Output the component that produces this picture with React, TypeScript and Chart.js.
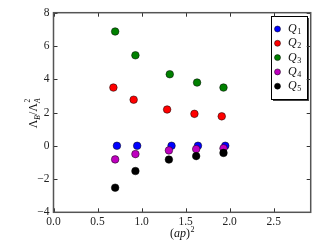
import React, { useEffect, useRef } from "react";
import { Chart, registerables } from "chart.js";

Chart.register(...registerables);

const seriesNames = ["Q₁", "Q₂", "Q₃", "Q₄", "Q₅"];
const seriesColors = ["#0000ff", "#ff0000", "#008000", "#bf00bf", "#000000"];

const q1X = [0.72, 0.95, 1.34, 1.64, 1.95];
const q1Y = [0, 0, 0, 0, 0];
const q2X = [0.68, 0.91, 1.29, 1.6, 1.91];
const q2Y = [3.5, 2.77, 2.18, 1.92, 1.77];
const q3X = [0.7, 0.93, 1.32, 1.63, 1.93];
const q3Y = [6.87, 5.44, 4.3, 3.8, 3.5];
const q4X = [0.7, 0.93, 1.31, 1.62, 1.93];
const q4Y = [-0.82, -0.5, -0.28, -0.2, -0.15];
const q5X = [0.7, 0.93, 1.31, 1.62, 1.93];
const q5Y = [-2.52, -1.52, -0.83, -0.62, -0.43];

const seriesX = [q1X, q2X, q3X, q4X, q5X];
const seriesY = [q1Y, q2Y, q3Y, q4Y, q5Y];

const xMin = 0;
const xMax = 2.92;
const xStep = 0.5;
const yMin = -4;
const yMax = 8;
const yStep = 2;

const FONT = "'Liberation Serif', 'DejaVu Serif', serif";

const framePlugin = {
  id: "frame",
  afterDraw(chart: any) {
    const { ctx, chartArea: a, scales } = chart;
    ctx.save();
    // inward ticks
    ctx.strokeStyle = "#333";
    ctx.lineWidth = 1;
    const tl = 4;
    scales.x.ticks.forEach((t: any) => {
      const px = Math.round(scales.x.getPixelForValue(t.value)) + 0.5;
      ctx.beginPath();
      ctx.moveTo(px, a.bottom);
      ctx.lineTo(px, a.bottom - tl);
      ctx.moveTo(px, a.top);
      ctx.lineTo(px, a.top + tl);
      ctx.stroke();
    });
    scales.y.ticks.forEach((t: any) => {
      const py = Math.round(scales.y.getPixelForValue(t.value)) + 0.5;
      ctx.beginPath();
      ctx.moveTo(a.left, py);
      ctx.lineTo(a.left + tl, py);
      ctx.moveTo(a.right, py);
      ctx.lineTo(a.right - tl, py);
      ctx.stroke();
    });
    // frame
    ctx.strokeStyle = "#555";
    ctx.lineWidth = 1.5;
    ctx.strokeRect(a.left, a.top, a.right - a.left, a.bottom - a.top);

    // x title
    ctx.fillStyle = "#111";
    ctx.textBaseline = "alphabetic";
    const cx = (a.left + a.right) / 2;
    const base = 237;
    ctx.font = `12px ${FONT}`;
    const w1 = ctx.measureText("(").width;
    const w3 = ctx.measureText(")").width;
    ctx.font = `italic 12px ${FONT}`;
    const w2 = ctx.measureText("ap").width;
    ctx.font = `8px ${FONT}`;
    const w4 = ctx.measureText("2").width;
    let x = cx - (w1 + w2 + w3 + w4) / 2;
    ctx.textAlign = "left";
    ctx.font = `12px ${FONT}`;
    ctx.fillText("(", x, base);
    x += w1;
    ctx.font = `italic 12px ${FONT}`;
    ctx.fillText("ap", x, base);
    x += w2;
    ctx.font = `12px ${FONT}`;
    ctx.fillText(")", x, base);
    x += w3;
    ctx.font = `8px ${FONT}`;
    ctx.fillText("2", x + 0.5, base - 5);

    // y title (rotated)
    ctx.save();
    ctx.translate(33, (a.top + a.bottom) / 2);
    ctx.rotate(-Math.PI / 2);
    const parts: [string, string, number][] = [
      ["Λ", `12px ${FONT}`, 0],
      ["B", `italic 7.5px ${FONT}`, 2.5],
      ["/", `12px ${FONT}`, 0],
      ["Λ", `12px ${FONT}`, 0],
    ];
    let total = 0;
    parts.forEach((p) => {
      ctx.font = p[1];
      total += ctx.measureText(p[0]).width;
    });
    ctx.font = `7.5px ${FONT}`;
    total += ctx.measureText("A").width + 1;
    let yx = -total / 2;
    parts.forEach((p) => {
      ctx.font = p[1];
      ctx.fillText(p[0], yx, 4 + p[2]);
      yx += ctx.measureText(p[0]).width;
    });
    ctx.font = `7.5px ${FONT}`;
    ctx.fillText("2", yx + 0.5, -3.5);
    ctx.font = `italic 7.5px ${FONT}`;
    ctx.fillText("A", yx, 7);
    ctx.restore();

    ctx.restore();
  },
  afterDatasetsDraw(chart: any) {
    const { ctx } = chart;
    ctx.save();
    const bx = 271;
    const by = 16;
    const bw = 36;
    const bh = 83;
    ctx.fillStyle = "#444";
    ctx.fillRect(bx + 2, by + 2, bw, bh);
    ctx.fillStyle = "#fff";
    ctx.fillRect(bx, by, bw, bh);
    ctx.strokeStyle = "#000";
    ctx.lineWidth = 1;
    ctx.strokeRect(bx + 0.5, by + 0.5, bw, bh);
    seriesNames.forEach((name, i) => {
      const cy = 29 + i * 14.3;
      ctx.beginPath();
      ctx.arc(277.5, cy, 3, 0, Math.PI * 2);
      ctx.fillStyle = seriesColors[i];
      ctx.fill();
      ctx.lineWidth = 0.5;
      ctx.strokeStyle = "#000";
      ctx.stroke();
      ctx.fillStyle = "#111";
      ctx.font = `italic 12px ${FONT}`;
      ctx.textBaseline = "middle";
      ctx.textAlign = "left";
      ctx.fillText("Q", 288, cy);
      const wq = ctx.measureText("Q").width;
      ctx.font = `8px ${FONT}`;
      ctx.fillText(String(i + 1), 288 + wq + 0.5, cy + 3);
    });
    ctx.restore();
  },
};

export default function App() {
  const ref = useRef<HTMLCanvasElement>(null);
  useEffect(() => {
    if (!ref.current) return;
    const chart = new Chart(ref.current, {
      type: "scatter",
      data: {
        datasets: seriesNames.map((name, i) => ({
          label: name,
          data: seriesX[i].map((x, j) => ({ x, y: seriesY[i][j] })),
          backgroundColor: seriesColors[i],
          borderColor: "#000",
          borderWidth: 0.5,
          pointRadius: 3.8,
          order: 5 - i,
        })),
      },
      options: {
        animation: false,
        responsive: false,
        devicePixelRatio: 1,
        layout: { padding: { top: 12.7, right: 21.3, left: 0, bottom: 0 } },
        plugins: {
          legend: { display: false },
          tooltip: { enabled: false },
        },
        scales: {
          x: {
            type: "linear",
            min: xMin,
            max: xMax,
            grid: { display: false, drawTicks: false },
            border: { display: false },
            afterFit: (s: any) => {
              s.height = 36.7;
            },
            ticks: {
              stepSize: xStep,
              includeBounds: false,
              autoSkip: false,
              maxRotation: 0,
              padding: 3,
              color: "#222",
              font: { family: FONT, size: 11.5 },
              callback: (v: any) => Number(v).toFixed(1),
            },
          },
          y: {
            type: "linear",
            min: yMin,
            max: yMax,
            grid: { display: false, drawTicks: false },
            border: { display: false },
            afterFit: (s: any) => {
              s.width = 53.5;
            },
            ticks: {
              stepSize: yStep,
              autoSkip: false,
              padding: 4,
              color: "#222",
              font: { family: FONT, size: 11.5 },
              callback: (v: any) => String(v).replace("-", "−"),
            },
          },
        },
      },
      plugins: [framePlugin],
    });
    return () => chart.destroy();
  }, []);
  return (
    <div style={{ position: "absolute", left: 0, top: 0, width: 332, height: 249, background: "#fff" }}>
      <canvas ref={ref} width={332} height={249} />
    </div>
  );
}
